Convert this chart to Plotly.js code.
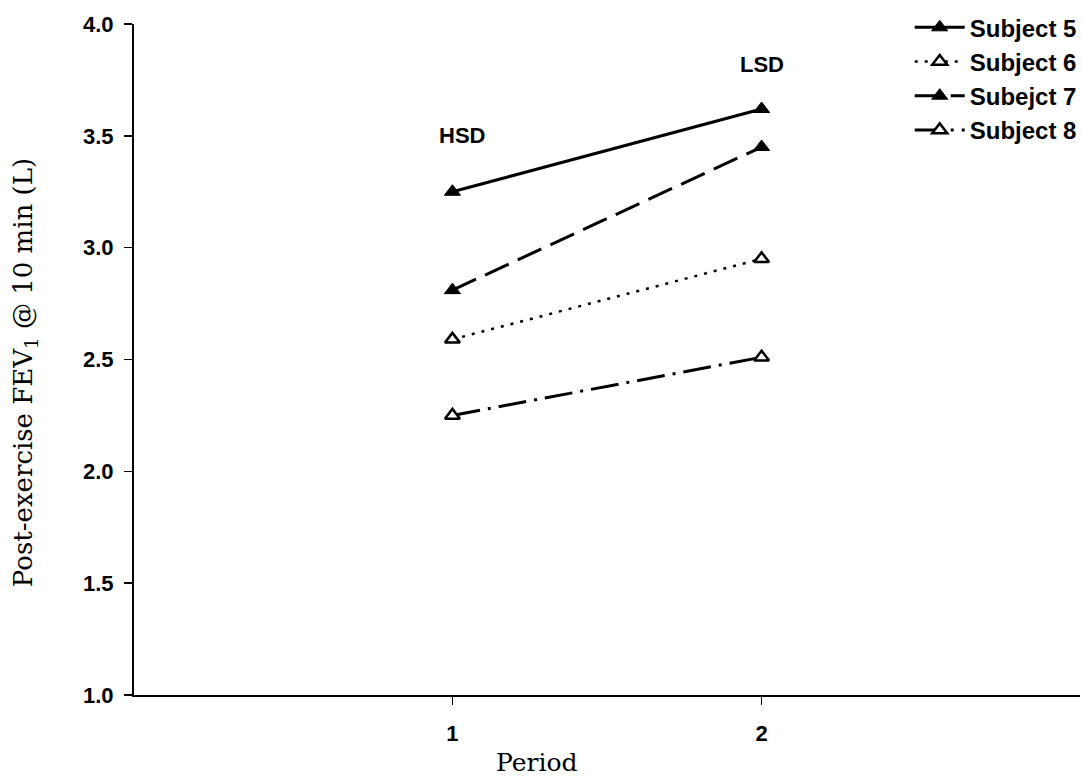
<!DOCTYPE html>
<html>
<head>
<meta charset="utf-8">
<script src="https://cdn.plot.ly/plotly-3.0.1.min.js"></script>
<style>
  html, body { margin: 0; padding: 0; background: #fff; }
  #chart { width: 1082px; height: 780px; }
</style>
</head>
<body>
<div id="chart"></div>
<script>
// Post-exercise FEV1 at 10 min, by study period
const periods = [1, 2];
const subject5 = [3.25, 3.62];
const subject6 = [2.59, 2.95];
const subject7 = [2.81, 3.45];
const subject8 = [2.25, 2.51];
const seriesNames = ['Subject 5', 'Subject 6', 'Subejct 7', 'Subject 8'];
const yTicks = [1.0, 1.5, 2.0, 2.5, 3.0, 3.5, 4.0];
const phaseLabels = ['HSD', 'LSD'];
const phaseLabelX = [1.03, 2.0];
const phaseLabelY = [3.50, 3.82];

const sansFont = 'Liberation Sans, Arial, sans-serif';
const serifFont = 'DejaVu Serif, Liberation Serif, serif';

function filledTri() {
  return { symbol: 'triangle-up', size: 14, color: '#000', line: { color: '#000', width: 1 } };
}
function openTri() {
  return { symbol: 'triangle-up', size: 13, color: '#fff', line: { color: '#000', width: 2.5 } };
}

const traces = [
  { x: periods, y: subject5, name: seriesNames[0], mode: 'lines+markers',
    line: { color: '#000', width: 3 }, marker: filledTri() },
  { x: periods, y: subject6, name: seriesNames[1], mode: 'lines+markers',
    line: { color: '#000', width: 2.5, dash: '3px,7px' }, marker: openTri() },
  { x: periods, y: subject7, name: seriesNames[2], mode: 'lines+markers',
    line: { color: '#000', width: 3, dash: '26px,10px' }, marker: filledTri() },
  { x: periods, y: subject8, name: seriesNames[3], mode: 'lines+markers',
    line: { color: '#000', width: 3, dash: '28px,8px,3px,8px' }, marker: openTri() }
];

const annotations = periods.map((p, i) => ({
  x: phaseLabelX[i], y: phaseLabelY[i], xref: 'x', yref: 'y',
  text: phaseLabels[i], showarrow: false,
  font: { family: sansFont, size: 22, color: '#000', weight: 'bold' }
}));
// axis titles
annotations.push({
  x: 0.426, y: -0.1, xref: 'paper', yref: 'paper',
  text: 'Period', showarrow: false, yanchor: 'middle',
  font: { family: serifFont, size: 25, color: '#000' }
});
annotations.push({
  x: -0.115, y: 0.48, xref: 'paper', yref: 'paper',
  text: 'Post-exercise FEV<sub>1</sub> @ 10 min (L)', showarrow: false,
  textangle: -90, xanchor: 'center', yanchor: 'middle',
  font: { family: serifFont, size: 26, color: '#000' }
});

const layout = {
  width: 1082, height: 780,
  margin: { l: 134, r: 0, t: 24, b: 85 },
  paper_bgcolor: '#fff', plot_bgcolor: '#fff',
  showlegend: true,
  legend: {
    x: 0.82, y: 1.028, xanchor: 'left', yanchor: 'top',
    itemwidth: 50,
    font: { family: sansFont, size: 24, color: '#000', weight: 'bold' },
    bgcolor: 'rgba(0,0,0,0)', tracegroupgap: 0
  },
  xaxis: {
    range: [-0.03, 3.03], tickvals: periods, ticktext: periods.map(String),
    showgrid: false, zeroline: false, showline: true, linecolor: '#000', linewidth: 2,
    ticks: 'outside', ticklen: 8, tickwidth: 1.5, tickcolor: '#000',
    ticklabelstandoff: 10,
    tickfont: { family: sansFont, size: 22, color: '#000', weight: 'bold' }
  },
  yaxis: {
    range: [1, 4], tickvals: yTicks, tickformat: '.1f',
    showgrid: false, zeroline: false, showline: true, linecolor: '#000', linewidth: 2,
    ticks: 'outside', ticklen: 8, tickwidth: 1.5, tickcolor: '#000',
    ticklabelstandoff: 6,
    tickfont: { family: sansFont, size: 22, color: '#000', weight: 'bold' }
  },
  annotations: annotations
};

Plotly.newPlot('chart', traces, layout, { displayModeBar: false, staticPlot: true });
</script>
</body>
</html>
